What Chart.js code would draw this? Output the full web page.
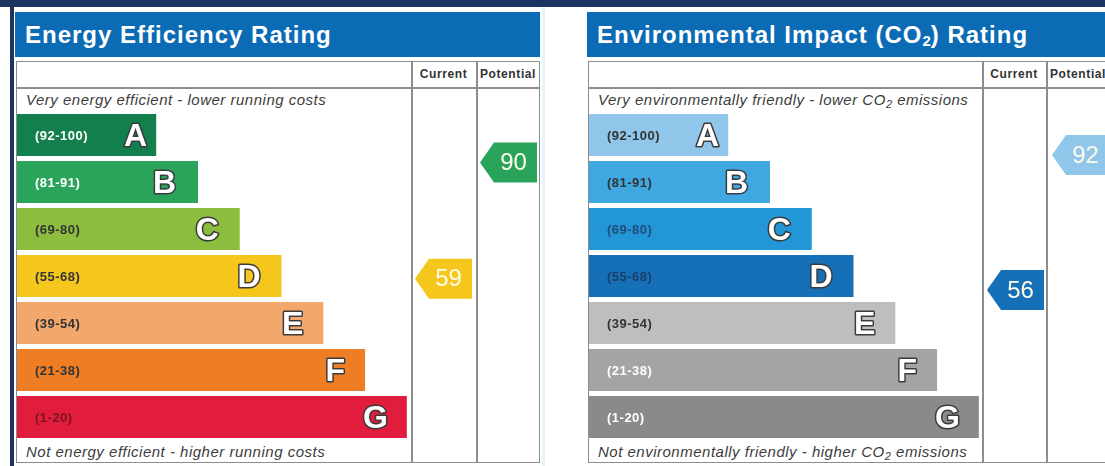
<!DOCTYPE html>
<html>
<head>
<meta charset="utf-8">
<script src="https://cdn.jsdelivr.net/npm/chart.js@4.4.1/dist/chart.umd.min.js"></script>
<style>
  html, body { margin: 0; padding: 0; }
  body {
    width: 1105px; height: 466px; overflow: hidden; position: relative;
    background: #ffffff; font-family: "Liberation Sans", Arial, sans-serif;
  }
  .topbar { position: absolute; left: 0; top: 0; width: 1105px; height: 7px; background: #1d3461; }
  .leftbar { position: absolute; left: 10px; top: 0; width: 4px; height: 466px; background: #1d3461; }
  .gapline { position: absolute; left: 542px; top: 7px; width: 3px; height: 459px; background: #e6f4fb; }
  .panel { position: absolute; top: 0; width: 530px; height: 466px; }
  .header {
    position: absolute; left: -1px; top: 12px; width: 525px; height: 45px;
    background: #0b6bb4; color: #ffffff; font-weight: bold; font-size: 24px; letter-spacing: 1px;
    line-height: 45px; padding-left: 10px; box-sizing: border-box; white-space: nowrap;
  }
  .header sub { font-size: 15px; vertical-align: -3px; line-height: 0; letter-spacing: 0; }
  .table {
    position: absolute; left: 0; top: 61px; width: 524px; height: 402px;
    border: 1.5px solid #8c8c8c; box-sizing: border-box;
  }
  .hrow { position: absolute; left: 0; top: 87px; width: 524px; height: 1.5px; background: #8c8c8c; }
  .vline { position: absolute; top: 61px; width: 1.5px; height: 402px; background: #8c8c8c; }
  .colhead {
    position: absolute; top: 61px; height: 27px; line-height: 27px; text-align: center;
    font-size: 12px; font-weight: bold; color: #333333; letter-spacing: 0.6px;
  }
  .note {
    position: absolute; left: 10px; font-size: 15px; font-style: italic; color: #3c3c3c;
    white-space: nowrap; line-height: 16px; letter-spacing: 0.5px;
  }
  .note sub { font-size: 11px; vertical-align: -3px; line-height: 0; }
  canvas { position: absolute; left: 0; top: 88px; }
</style>
</head>
<body>
<div class="topbar"></div>
<div class="leftbar"></div>
<div class="gapline"></div>

<div class="panel" style="left:16px">
  <div class="header">Energy Efficiency Rating</div>
  <div class="table"></div>
  <div class="hrow"></div>
  <div class="vline" style="left:395px"></div>
  <div class="vline" style="left:460px"></div>
  <div class="colhead" style="left:395px;width:65px">Current</div>
  <div class="colhead" style="left:460px;width:64px">Potential</div>
  <div class="note" style="top:92px">Very energy efficient - lower running costs</div>
  <div class="note" style="top:444px">Not energy efficient - higher running costs</div>
  <canvas id="energyChart" width="524" height="375"></canvas>
</div>

<div class="panel" style="left:588px">
  <div class="header">Environmental Impact (CO<sub>2</sub>) Rating</div>
  <div class="table"></div>
  <div class="hrow"></div>
  <div class="vline" style="left:394px"></div>
  <div class="vline" style="left:458px"></div>
  <div class="colhead" style="left:394px;width:64px">Current</div>
  <div class="colhead" style="left:458px;width:64px">Potential</div>
  <div class="note" style="top:92px">Very environmentally friendly - lower CO<sub>2</sub> emissions</div>
  <div class="note" style="top:444px">Not environmentally friendly - higher CO<sub>2</sub> emissions</div>
  <canvas id="co2Chart" width="524" height="375"></canvas>
</div>

<script>
const bands = ["A", "B", "C", "D", "E", "F", "G"];
const bandRanges = ["(92-100)", "(81-91)", "(69-80)", "(55-68)", "(39-54)", "(21-38)", "(1-20)"];
const bandLengths = [10, 13, 16, 19, 22, 25, 28];

const energyColours = ["#137f4c", "#2aa45a", "#8cbd3e", "#f5c61c", "#f2a76c", "#ee7d24", "#e21c3c"];
const energyRangeColours = ["#ffffff", "#ffffff", "#333333", "#333333", "#333333", "#333333", "#7c1424"];
const energyCurrent = 59;
const energyPotential = 90;

const co2Colours = ["#8fc6ea", "#40a8e0", "#2296d6", "#1670b8", "#bebebe", "#a4a4a4", "#8a8a8a"];
const co2RangeColours = ["#333333", "#333333", "#1f4f78", "#1c3f69", "#333333", "#ffffff", "#ffffff"];
const co2Current = 56;
const co2Potential = 92;

// letter inset from the end of each bar (A sits closer to its end)
const letterInsets = [9, 22, 21, 21, 20, 20, 19];

const epcMarks = {
  id: "epcMarks",
  afterDatasetsDraw(chart, args, opts) {
    const ctx = chart.ctx;
    const bars = chart.getDatasetMeta(0).data;
    ctx.save();
    bars.forEach((bar, i) => {
      ctx.textBaseline = "middle";
      ctx.font = "bold 13px 'Liberation Sans', Arial, sans-serif";
      ctx.letterSpacing = "0.5px";
      ctx.fillStyle = opts.rangeColours[i];
      ctx.textAlign = "left";
      ctx.fillText(bandRanges[i], bar.base + opts.rangeOffset, bar.y + 1);

      ctx.letterSpacing = "0px";
      ctx.font = "bold 32px 'Liberation Sans', Arial, sans-serif";
      ctx.textAlign = "right";
      ctx.lineJoin = "round";
      ctx.lineWidth = 3;
      ctx.strokeStyle = "#3a3a3a";
      ctx.strokeText(bands[i], bar.x - letterInsets[i], bar.y + 2);
      ctx.fillStyle = "#ffffff";
      ctx.fillText(bands[i], bar.x - letterInsets[i], bar.y + 2);
    });

    const area = chart.chartArea;
    const score = chart.scales.score;
    opts.arrows.forEach((arrow) => {
      const left = area.right + arrow.column * opts.columnWidth + 4;
      const right = left + opts.columnWidth - 8;
      const cy = score.getPixelForValue(arrow.value);
      const h = 40;
      ctx.beginPath();
      ctx.moveTo(left, cy);
      ctx.lineTo(left + 14, cy - h / 2);
      ctx.lineTo(right, cy - h / 2);
      ctx.lineTo(right, cy + h / 2);
      ctx.lineTo(left + 14, cy + h / 2);
      ctx.closePath();
      ctx.fillStyle = arrow.colour;
      ctx.fill();
      ctx.font = "24px 'Liberation Sans', Arial, sans-serif";
      ctx.textAlign = "center";
      ctx.textBaseline = "middle";
      ctx.fillStyle = "#fdfbea";
      ctx.fillText(String(arrow.value), (left + 14 + right) / 2 - 2, cy + 1);
    });
    ctx.restore();
  }
};

function buildRatingChart(canvasId, colours, rangeColours, arrows) {
  return new Chart(document.getElementById(canvasId), {
    type: "bar",
    data: {
      labels: bands,
      datasets: [{
        data: bandLengths,
        backgroundColor: colours,
        borderWidth: 0,
        barPercentage: 0.89,
        categoryPercentage: 1
      }]
    },
    options: {
      indexAxis: "y",
      responsive: false,
      animation: false,
      layout: { padding: { left: 1, right: 129, top: 23.5, bottom: 22.5 } },
      scales: {
        x: { display: false, min: 0, max: 28.3 },
        y: { display: false },
        score: {
          type: "linear", axis: "y", position: "right", display: false,
          offset: false, grid: { offset: false }, min: 15.9, max: 103.6
        }
      },
      plugins: {
        legend: { display: false },
        tooltip: { enabled: false },
        epcMarks: { rangeColours, rangeOffset: 18, columnWidth: 65, arrows }
      }
    },
    plugins: [epcMarks]
  });
}

buildRatingChart("energyChart", energyColours, energyRangeColours, [
  { value: energyCurrent, colour: energyColours[3], column: 0 },
  { value: energyPotential, colour: energyColours[1], column: 1 }
]);

buildRatingChart("co2Chart", co2Colours, co2RangeColours, [
  { value: co2Current, colour: co2Colours[3], column: 0 },
  { value: co2Potential, colour: co2Colours[0], column: 1 }
]);
</script>
</body>
</html>
